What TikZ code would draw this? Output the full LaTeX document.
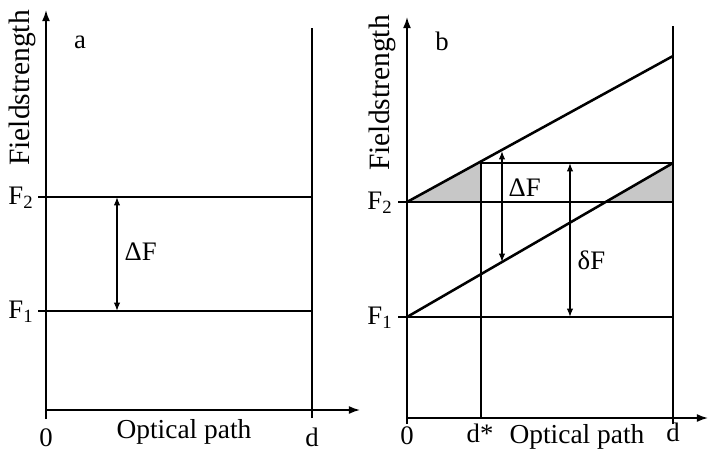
\documentclass[tikz,border=0pt]{standalone}
\usepackage{fontspec}
\setmainfont{Liberation Serif}
\usetikzlibrary{arrows.meta, positioning, calc}
\tikzset{
    axis/.style={-{Latex[length=2.8mm, width=2mm]}, line width=1.1pt, draw=black},
    thinline/.style={line width=0.8pt, draw=black},
    thickline/.style={line width=1.8pt, draw=black},
    gaparrow/.style={{Latex[length=2.1mm, width=1.6mm]}-{Latex[length=2.1mm, width=1.6mm]}, line width=0.9pt, draw=black},
    lbl/.style={font=\fontsize{19}{22}\selectfont, inner sep=1pt},
    axislbl/.style={font=\fontsize{19.5}{22}\selectfont, inner sep=1pt},
    hatched/.style={fill=black!22, draw=none}
}

\begin{document}
\begin{tikzpicture}[x=0.025cm, y=-0.025cm]
    \useasboundingbox (0,0) rectangle (710,456);

    % panel a
    \coordinate (a0) at (46,410);
    \coordinate (atop) at (46,10);
    \coordinate (aend) at (360,410);
    \coordinate (ad) at (312,410);
    \draw[axis] (46,419) -- (atop);
    \draw[axis] (a0) -- (aend);
    \draw[thinline, line width=1.1pt] (312,418) -- (312,28);
    \coordinate (aF2) at (38,197);
    \coordinate (aF1) at (38,311);
    \draw[thickline] (aF2) -- (312,197);
    \draw[thickline] (aF1) -- (312,311);
    \coordinate (agap2) at (117,197);
    \coordinate (agap1) at (117,311);
    \draw[gaparrow] (agap2) -- (agap1);
    \node[lbl, anchor=west] (aDF) at (123,252) {ΔF};
    \node[lbl] (alabel) at (80,42) {a};
    \node[lbl, anchor=east] (aF2lbl) at (35,198) {F\textsubscript{2}};
    \node[lbl, anchor=east] (aF1lbl) at (35,312) {F\textsubscript{1}};
    \node[lbl] (azero) at (46,438) {0};
    \node[lbl] (ad lbl) at (312,437) {d};
    \node[axislbl] (aoptical) at (184,432) {Optical path};
    \node[axislbl, font=\fontsize{21}{24}\selectfont, rotate=90] (afield) at (22,88) {Fieldstrength};

    % panel b
    \coordinate (b0) at (407,418);
    \coordinate (btop) at (407,17);
    \coordinate (bend) at (708,418);
    \coordinate (bF2) at (407,202);
    \coordinate (bF1) at (407,317);
    \coordinate (bup) at (673,56);
    \coordinate (blow) at (673,163);
    \coordinate (bdstar) at (481,163);
    \coordinate (bcross) at (603,202);
    \fill[hatched] (bF2) -- (481,161.5) -- (481,202) -- cycle;
    \fill[hatched] (bcross) -- (blow) -- (673,202) -- cycle;
    \draw[axis] (407,424) -- (btop);
    \draw[axis] (b0) -- (bend);
    \draw[thinline] (673,424) -- (673,26);
    \draw[thinline] (398,202) -- (673,202);
    \draw[thinline] (398,317) -- (673,317);
    \draw[thinline] (bdstar) -- (blow);
    \draw[thinline] (481,418) -- (bdstar);
    \draw[thickline] (bF2) -- (bup);
    \draw[thickline] (bF1) -- (blow);
    \coordinate (bgap2) at (502,151);
    \coordinate (bgap1) at (502,262);
    \draw[gaparrow] (bgap2) -- (bgap1);
    \coordinate (bdel2) at (570,163);
    \coordinate (bdel1) at (570,317);
    \draw[gaparrow] (bdel2) -- (bdel1);
    \node[lbl, anchor=west] (bDF) at (507,188) {ΔF};
    \node[lbl, anchor=west] (bdF) at (576,260) {δF};
    \node[lbl] (blabel) at (442,41) {b};
    \node[lbl, anchor=east] (bF2lbl) at (394,203) {F\textsubscript{2}};
    \node[lbl, anchor=east] (bF1lbl) at (394,318) {F\textsubscript{1}};
    \node[lbl] (bzero) at (407,436) {0};
    \node[lbl] (bdstarlbl) at (480,433) {d*};
    \node[lbl] (bdlbl) at (673,432) {d};
    \node[axislbl] (boptical) at (577,437) {Optical path};
    \node[axislbl, font=\fontsize{21}{24}\selectfont, rotate=90] (bfield) at (382,93) {Fieldstrength};
\end{tikzpicture}
\end{document}
